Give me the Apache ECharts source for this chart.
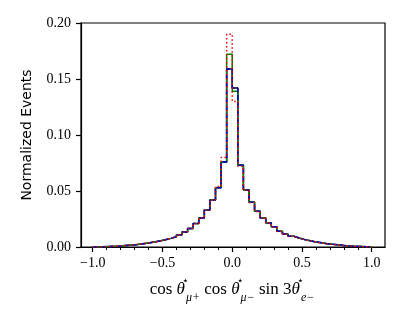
<!DOCTYPE html>
<html><head><meta charset="utf-8">
<script src="https://cdn.jsdelivr.net/npm/echarts@6/dist/echarts.min.js"></script>
<style>html,body{margin:0;padding:0;background:#fff}#c{width:408px;height:319px}</style>
</head><body><div id="c"></div>
<script>
// Histogram binning: 50 bins from -1 to 1
const binStart = -1.0;
const binWidth = 0.04;
const nBins = 50;

// Bin heights (left edge -1 .. right edge 1)
const blackVals = [0.0001,0.0003,0.0005,0.0007,0.0010,0.0014,0.0018,0.0023,0.0029,0.0036,0.0044,0.0053,0.0064,0.0077,0.0092,0.0110,0.0134,0.0165,0.0210,0.0260,0.0330,0.0420,0.0530,0.0760,0.1590,
                   0.1420,0.0730,0.0510,0.0400,0.0320,0.0260,0.0215,0.0180,0.0140,0.0115,0.0096,0.0080,0.0066,0.0055,0.0045,0.0037,0.0030,0.0024,0.0019,0.0014,0.0010,0.0007,0.0005,0.0003,0.0001];
const greenVals = [0.0001,0.0003,0.0005,0.0007,0.0010,0.0014,0.0018,0.0023,0.0029,0.0036,0.0044,0.0053,0.0064,0.0077,0.0092,0.0110,0.0134,0.0165,0.0210,0.0262,0.0332,0.0422,0.0532,0.0760,0.1720,
                   0.1390,0.0732,0.0512,0.0402,0.0322,0.0262,0.0216,0.0181,0.0141,0.0116,0.0096,0.0080,0.0066,0.0055,0.0045,0.0037,0.0030,0.0024,0.0019,0.0014,0.0010,0.0007,0.0005,0.0003,0.0001];
const blueVals  = [0.0001,0.0003,0.0005,0.0007,0.0010,0.0014,0.0018,0.0023,0.0029,0.0036,0.0044,0.0053,0.0064,0.0077,0.0092,0.0110,0.0134,0.0165,0.0210,0.0260,0.0330,0.0420,0.0530,0.0760,0.1590,
                   0.1420,0.0730,0.0510,0.0400,0.0320,0.0260,0.0215,0.0180,0.0140,0.0115,0.0096,0.0080,0.0066,0.0055,0.0045,0.0037,0.0030,0.0024,0.0019,0.0014,0.0010,0.0007,0.0005,0.0003,0.0001];
const redVals   = [0.0001,0.0003,0.0005,0.0007,0.0010,0.0014,0.0018,0.0023,0.0029,0.0036,0.0044,0.0053,0.0064,0.0077,0.0092,0.0110,0.0134,0.0165,0.0208,0.0258,0.0330,0.0420,0.0540,0.0800,0.1900,
                   0.1300,0.0720,0.0508,0.0398,0.0318,0.0258,0.0214,0.0179,0.0139,0.0114,0.0095,0.0079,0.0065,0.0054,0.0044,0.0036,0.0029,0.0023,0.0018,0.0013,0.0009,0.0006,0.0004,0.0002,0.0001];

// Tick labels
const xTickValues = [-1.0, -0.5, 0.0, 0.5, 1.0];
const xTickLabels = ['\u22121.0', '\u22120.5', '0.0', '0.5', '1.0'];
const xMinorTicks = [-1.0,-0.9,-0.8,-0.7,-0.6,-0.5,-0.4,-0.3,-0.2,-0.1,0.0,0.1,0.2,0.3,0.4,0.5,0.6,0.7,0.8,0.9,1.0];
const yTickLabels = ['0.00','0.05','0.10','0.15','0.20'];

const edges = Array.from({length: nBins + 1}, (_, i) => +(binStart + i * binWidth).toFixed(4));
function stepData(vals) {
  const d = [[edges[0], 0]];
  vals.forEach((v, i) => d.push([edges[i], v]));
  d.push([edges[nBins], vals[nBins - 1]]);
  d.push([edges[nBins], 0]);
  return d;
}

const tickFont = {fontFamily: 'Liberation Serif', fontSize: 14, color: '#000'};
const chart = echarts.init(document.getElementById('c'), null, {renderer: 'canvas'});
const mk = (name, vals, color, type, w, z) => ({
  name, type: 'line', step: 'end', data: stepData(vals), symbol: 'none', z,
  lineStyle: {color, width: w, type, cap: 'butt'},
  animation: false
});
chart.setOption({
  animation: false,
  grid: {left: 81, right: 23, top: 23, bottom: 72, show: true, borderColor: '#000', borderWidth: 1.2, backgroundColor: 'transparent'},
  xAxis: [{
    type: 'value', min: -1.084, max: 1.095,
    axisLine: {show: true, onZero: false, lineStyle: {color: '#000', width: 1.2}},
    axisTick: {show: true, customValues: xTickValues, length: 5, lineStyle: {color: '#000', width: 1.2}},
    axisLabel: {customValues: xTickValues, margin: 9, ...tickFont,
      formatter: v => { const i = xTickValues.findIndex(t => Math.abs(t - v) < 1e-6); return i >= 0 ? xTickLabels[i] : ''; }},
    splitLine: {show: false}
  }, {
    type: 'value', min: -1.084, max: 1.095, position: 'bottom',
    axisLine: {show: false, onZero: false},
    axisTick: {show: true, customValues: xMinorTicks, length: 3, lineStyle: {color: '#000', width: 1}},
    axisLabel: {show: false}, splitLine: {show: false}
  }],
  yAxis: {
    type: 'value', min: 0, max: 0.2, interval: 0.05,
    axisLine: {show: true, onZero: false, lineStyle: {color: '#000', width: 1.2}},
    axisTick: {show: true, length: 5, lineStyle: {color: '#000', width: 1.2}},
    axisLabel: {margin: 10, ...tickFont, formatter: v => yTickLabels[Math.round(v / 0.05)]},
    splitLine: {show: false},
    name: 'Normalized Events', nameLocation: 'middle', nameGap: 47,
    nameTextStyle: {fontFamily: 'DejaVu Sans', fontSize: 14, color: '#000'}
  },
  series: [
    mk('black', blackVals, '#000000', 'solid', 1.5, 2),
    mk('green', greenVals, '#008000', 'solid', 1.5, 3),
    mk('blue', blueVals, '#0000cc', [5.5, 2.4], 1.5, 4),
    mk('red', redVals, '#ff0000', [1.5, 2.5], 1.5, 5)
  ],
  graphic: [{
    type: 'text', x: 232, y: 290,
    style: {
      align: 'center', verticalAlign: 'middle',
      text: '{n|cos }{i|\u03b8}{sp|\u22c6}{sb|\u03bc+}{n| cos }{i|\u03b8}{sp|\u22c6}{sb|\u03bc\u2212}{n| sin 3}{i|\u03b8}{sp|\u22c6}{sb|e\u2212}',
      rich: {
        n: {fontFamily: 'Liberation Serif', fontSize: 17, lineHeight: 28, verticalAlign: 'middle', fill: '#000'},
        i: {fontFamily: 'Liberation Serif', fontStyle: 'italic', fontSize: 17, lineHeight: 28, verticalAlign: 'middle', fill: '#000'},
        sp: {fontFamily: 'DejaVu Sans', fontSize: 11, lineHeight: 11, verticalAlign: 'top', fill: '#000', width: 1},
        sb: {fontFamily: 'Liberation Serif', fontStyle: 'italic', fontSize: 12, lineHeight: 12, verticalAlign: 'bottom', fill: '#000'}
      }
    }
  }]
});
</script></body></html>
